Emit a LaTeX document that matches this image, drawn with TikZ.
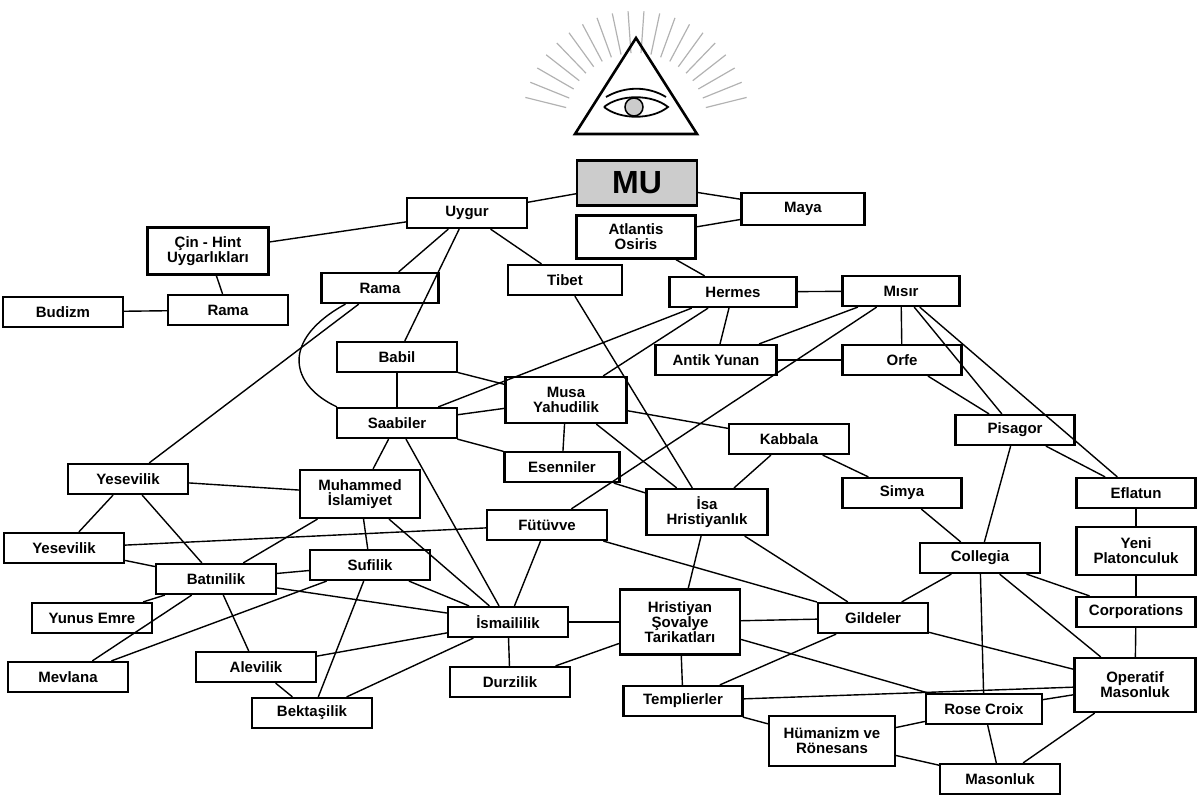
\documentclass[tikz,border=0pt]{standalone}
\usepackage{fontspec}
\setmainfont{Liberation Sans}
\begin{document}
\begin{tikzpicture}[x=1pt,y=-1pt,
 box/.style={draw,line width=2.2pt,fill=white,inner sep=0pt,align=center,font=\fontsize{15}{15}\selectfont\bfseries},
 edge/.style={line width=1.4pt},
 ray/.style={line width=1.2pt,gray!60}]
\useasboundingbox (0,0) rectangle (1200,799);
% eye
\foreach \a in {14,22,...,166}{\draw[ray] (636,125)++(-\a:72) -- ++(-\a:42);}
\draw[line width=2.6pt,line join=miter] (636,38) -- (697,134) -- (575,134) -- cycle;
\draw[line width=1.8pt] (604,107) .. controls (620,94) and (652,94) .. (668,107) .. controls (652,120) and (620,120) .. (604,107);
\draw[line width=1.8pt] (606,97) .. controls (625,86) and (648,86) .. (666,97);
\draw[line width=1.5pt,fill=gray!40] (634,107) circle (9);
% nodes
\node[box,minimum width=120,minimum height=45,fill=gray!40,font=\fontsize{32}{32}\selectfont\bfseries] (mu) at (637,183) {MU};
\node[box,minimum width=120,minimum height=30] (uygur) at (467,213) {Uygur};
\node[box,minimum width=123,minimum height=32] (maya) at (803,209) {Maya};
\node[box,minimum width=119,minimum height=43] (atl) at (636,237) {Atlantis\\Osiris};
\node[box,minimum width=121,minimum height=47] (cin) at (208,251) {Çin - Hint\\Uygarlıkları};
\node[box,minimum width=120,minimum height=30] (ramaL) at (228,310) {Rama};
\node[box,minimum width=120,minimum height=30] (bud) at (63,312) {Budizm};
\node[box,minimum width=117,minimum height=30] (rama) at (380,288) {Rama};
\node[box,minimum width=114,minimum height=30] (tibet) at (565,280) {Tibet};
\node[box,minimum width=127,minimum height=30] (hermes) at (733,292) {Hermes};
\node[box,minimum width=117,minimum height=30] (misir) at (901,291) {Mısır};
\node[box,minimum width=120,minimum height=30] (babil) at (397,357) {Babil};
\node[box,minimum width=121,minimum height=30] (antik) at (716,360) {Antik Yunan};
\node[box,minimum width=119,minimum height=30] (orfe) at (902,360) {Orfe};
\node[box,minimum width=121,minimum height=46] (musa) at (566,400) {Musa\\Yahudilik};
\node[box,minimum width=120,minimum height=30] (saab) at (397,423) {Saabiler};
\node[box,minimum width=120,minimum height=30] (kab) at (789,439) {Kabbala};
\node[box,minimum width=119,minimum height=30] (pis) at (1015,430) {Pisagor};
\node[box,minimum width=115,minimum height=30] (esen) at (562,467) {Esenniler};
\node[box,minimum width=119,minimum height=30] (simya) at (902,493) {Simya};
\node[box,minimum width=119,minimum height=30] (efl) at (1136,493) {Eflatun};
\node[box,minimum width=121,minimum height=46] (isa) at (707,512) {İsa\\Hristiyanlık};
\node[box,minimum width=120,minimum height=30] (yes) at (128,479) {Yesevilik};
\node[box,minimum width=120,minimum height=48] (muh) at (360,494) {Muhammed\\İslamiyet};
\node[box,minimum width=120,minimum height=30] (fut) at (547,525) {Fütüvve};
\node[box,minimum width=120,minimum height=30] (yes2) at (64,548) {Yesevilik};
\node[box,minimum width=120,minimum height=30] (suf) at (370,565) {Sufilik};
\node[box,minimum width=120,minimum height=30] (bat) at (216,579) {Batınilik};
\node[box,minimum width=120,minimum height=30] (coll) at (980,558) {Collegia};
\node[box,minimum width=119,minimum height=48] (yeni) at (1136,551) {Yeni\\Platonculuk};
\node[box,minimum width=119,minimum height=30] (corp) at (1136,612) {Corporations};
\node[box,minimum width=120,minimum height=30] (yunus) at (92,618) {Yunus Emre};
\node[box,minimum width=120,minimum height=30] (ism) at (508,622) {İsmaililik};
\node[box,minimum width=120,minimum height=65] (hst) at (680,622) {Hristiyan\\Şovalye\\Tarikatları};
\node[box,minimum width=110,minimum height=30] (gil) at (873,618) {Gildeler};
\node[box,minimum width=120,minimum height=30] (mev) at (68,677) {Mevlana};
\node[box,minimum width=120,minimum height=30] (ale) at (256,667) {Alevilik};
\node[box,minimum width=120,minimum height=30] (durz) at (510,682) {Durzilik};
\node[box,minimum width=121,minimum height=54] (opm) at (1135,685) {Operatif\\Masonluk};
\node[box,minimum width=119,minimum height=30] (temp) at (683,701) {Templierler};
\node[box,minimum width=120,minimum height=30] (bek) at (312,713) {Bektaşilik};
\node[box,minimum width=116,minimum height=30] (rose) at (984,709) {Rose Croix};
\node[box,minimum width=126,minimum height=50] (hum) at (832,741) {Hümanizm ve\\Rönesans};
\node[box,minimum width=120,minimum height=30] (mas) at (1000,779) {Masonluk};
% edges
\foreach \a/\b in {mu/uygur,mu/maya,atl/maya,atl/hermes,uygur/cin,uygur/rama,uygur/babil,uygur/tibet,cin/ramaL,bud/ramaL,
 rama/yes,babil/saab,babil/musa,saab/musa,saab/hermes,saab/esen,saab/muh,saab/ism,
 hermes/misir,hermes/antik,hermes/musa,misir/antik,misir/orfe,misir/fut,misir/pis,misir/efl,antik/orfe,orfe/pis,
 tibet/isa,musa/esen,musa/isa,musa/kab,esen/isa,kab/isa,kab/simya,pis/efl,pis/coll,simya/coll,efl/yeni,yeni/corp,corp/opm,
 coll/corp,coll/gil,coll/rose,coll/opm,isa/hst,isa/gil,fut/gil,fut/yes2,fut/ism,
 yes/muh,yes/yes2,yes/bat,muh/bat,muh/suf,muh/ism,yes2/bat,bat/suf,bat/yunus,bat/mev,bat/ale,bat/ism,
 suf/mev,suf/bek,suf/ism,ale/bek,ale/ism,bek/ism,ism/durz,ism/hst,durz/hst,hst/gil,hst/temp,hst/rose,
 gil/temp,gil/opm,temp/opm,temp/hum,hum/rose,hum/mas,rose/mas,rose/opm,opm/mas}
 {\draw[edge] (\a) -- (\b);}
\draw[edge] (rama.205) .. controls (280,340) and (290,385) .. (saab.165);
\end{tikzpicture}
\end{document}
